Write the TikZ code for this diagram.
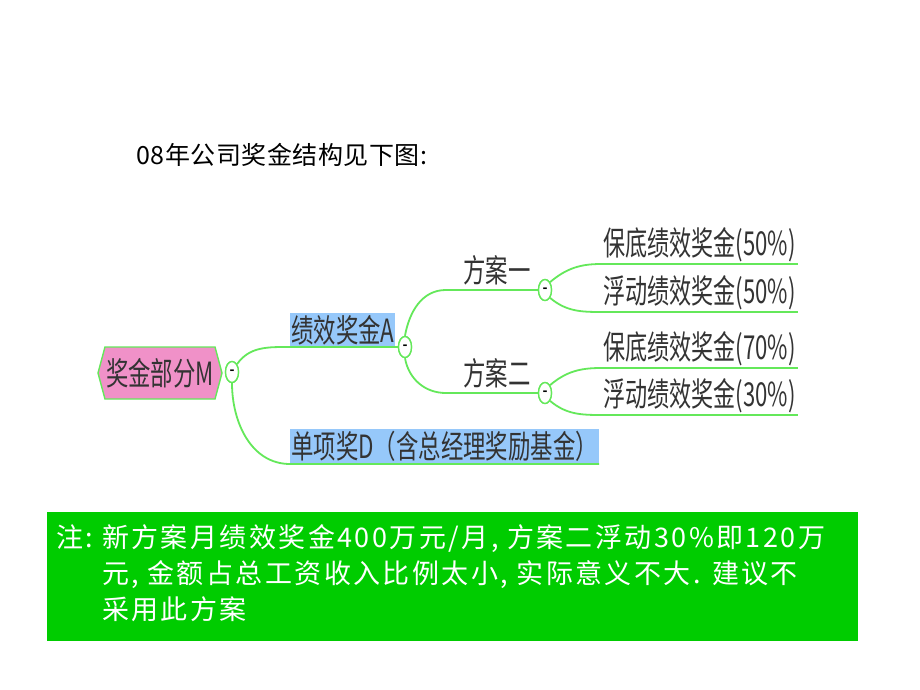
\documentclass[tikz,border=0pt]{standalone}
\usepackage{fontspec}
\newfontfamily\cjk{Noto Sans CJK SC}
\newfontfamily\cjkwide[LetterSpace=2]{Noto Sans CJK SC}
\newfontfamily\cjknote[LetterSpace=9]{Noto Sans CJK SC}
\usetikzlibrary{shapes,positioning,calc}

\definecolor{linegreen}{RGB}{100,232,90}
\definecolor{labelblue}{RGB}{150,200,250}
\definecolor{rootpink}{RGB}{240,145,200}
\definecolor{notegreen}{RGB}{0,204,0}

\newcommand{\narrow}[1]{\scalebox{0.7}[1]{#1}}

\tikzset{
  branch/.style={draw=linegreen, line width=1.8pt},
  toggle/.style={ellipse, draw=linegreen, line width=1.4pt, fill=white,
    minimum width=13pt, minimum height=21pt, inner sep=0pt,
    font=\cjk\bfseries\fontsize{13}{13}\selectfont},
  topic/.style={inner xsep=1pt, inner ysep=2pt, anchor=south west,
    font=\cjk\fontsize{32}{33}\selectfont, text=black!80},
  hilite/.style={topic, fill=labelblue},
  leaf/.style={topic, inner xsep=2pt, font=\cjk\fontsize{33}{34}\selectfont},
}

\begin{document}
\begin{tikzpicture}[x=1pt,y=-1pt]
    \useasboundingbox (0,0) rectangle (920,690);
    \fill[white] (0,0) rectangle (920,690);

    % title
    \node[anchor=west, font=\cjkwide\fontsize{25}{27}\selectfont] (title) at (133,155) {08年公司奖金结构见下图:};

    % root
    \node[shape=signal, signal to=west and east, signal pointer angle=150,
      draw=linegreen, line width=1.4pt, fill=rootpink, minimum width=124pt, minimum height=52pt,
      inner sep=0pt, font=\cjk\fontsize{32}{33}\selectfont, text=black!80] (root) at (160,373) {\narrow{奖金部分M}};

    % first level
    \node[hilite] (perf) at (290,347) {\narrow{绩效奖金A}};
    \node[toggle] (togM) at (232,372) {-};
    \node[toggle] (togA) at (405,347) {-};
    \node[hilite] (single) at (290,464) {\narrow{单项奖D（含总经理奖励基金）}};

    % plans
    \node[toggle] (togP1) at (545,290) {-};
    \node[toggle] (togP2) at (545,393) {-};
    \node[topic, inner ysep=5pt] (plan1) at (462,290) {\narrow{方案一}};
    \node[topic, inner ysep=5pt] (plan2) at (462,393) {\narrow{方案二}};

    % leaves
    \node[leaf] (base1) at (601,264) {\scalebox{0.67}[1]{保底绩效奖金(50\%)}};
    \node[leaf] (float1) at (601,312) {\scalebox{0.67}[1]{浮动绩效奖金(50\%)}};
    \node[leaf] (base2) at (601,368) {\scalebox{0.67}[1]{保底绩效奖金(70\%)}};
    \node[leaf] (float2) at (601,415) {\scalebox{0.67}[1]{浮动绩效奖金(30\%)}};

    % connectors
    \draw[branch] (togM.north east) to[out=55,in=180] (perf.south west) -- (togA.west);
    \draw[branch] (togM.south) to[out=-90,in=180] (single.south west) -- (single.south east);
    \draw[branch] (togA.north) to[out=80,in=180] ($(togP1.west)+(-92,0)$) -- (togP1.west);
    \draw[branch] (togA.south) to[out=-80,in=180] ($(togP2.west)+(-92,0)$) -- (togP2.west);
    \foreach \p/\u/\d in {togP1/base1/float1, togP2/base2/float2} {
        \draw[branch] (\p.north east) to[out=40,in=180] (\u.south west) -- (\u.south east);
        \draw[branch] (\p.south east) to[out=-40,in=180] (\d.south west) -- (\d.south east);
    }
    \foreach \t in {togM,togA,togP1,togP2}
        \node[toggle] at (\t) {-};

    % note box
    \node[fill=notegreen, minimum width=811pt, minimum height=129pt, anchor=north west, inner sep=0pt] (note) at (47,512) {};
    \node[anchor=north west, text=white, font=\cjknote\fontsize{27}{36}\selectfont, inner sep=0pt] (notetext) at (56,522)
      {\begin{tabular}{@{}l@{\hspace{9pt}}l@{}}
        注: & 新方案月绩效奖金400万元/月, 方案二浮动30\%即120万\\
            & 元, 金额占总工资收入比例太小, 实际意义不大. 建议不\\
            & 采用此方案
      \end{tabular}};
\end{tikzpicture}
\end{document}
